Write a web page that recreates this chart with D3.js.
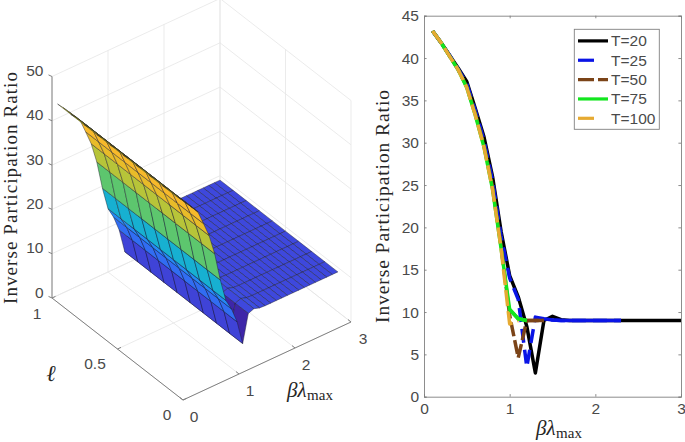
<!DOCTYPE html>
<html><head><meta charset="utf-8">
<script src="https://cdn.jsdelivr.net/npm/d3@7"></script>
<style>
html,body{margin:0;padding:0;background:#fff;overflow:hidden;}
svg{display:block;}
text{font-family:"Liberation Sans",Arial,sans-serif;fill:#4a4a4a;}
.serif{font-family:"Liberation Serif",serif;fill:#262626;}
</style></head><body><svg id="c" width="685" height="442"></svg>
<script>
const betaGrid=[0.1,0.2,0.3,0.4,0.5,0.6,0.7,0.8,0.9,1.0,1.1,1.2,1.3,1.4,1.5,1.6,1.7,1.8,1.9,2.0,2.1,2.2,2.3,2.4,2.5,2.6,2.7,2.8,2.9,3.0];
const ellGrid=[0.1,0.2,0.3,0.4,0.5,0.6,0.7,0.8,0.9,1.0];
const surfaceProfile=[43.2,41.8,40.3,38.8,37.2,34,30.7,26,19.5,14.3,11.8,8.3,2.8,9,9.5,9.1,9,9,9,9,9,9,9,9,9,9,9,9,9,9];
const betaT20=betaGrid;
const valT20=surfaceProfile;
const betaT25=[0.1,0.2,0.3,0.4,0.5,0.6,0.7,0.8,0.9,1.0,1.1,1.2,1.3,1.4,1.5,1.6,1.7,2.3];
const valT25=[43.2,41.8,40.3,38.7,37,33.8,30.3,25.6,19,14,11.5,3.5,9.4,9.2,9.05,9,9,9];
const betaT50=[0.1,0.2,0.3,0.4,0.5,0.6,0.7,0.8,0.9,1.0,1.1,1.2,1.3,1.4];
const valT50=[43.2,41.8,40.2,38.6,36.6,33.4,29.7,24.8,17.8,9.6,4.6,9,9,9];
const betaT75=[0.1,0.2,0.3,0.4,0.5,0.6,0.7,0.8,0.9,1.0,1.1,1.2];
const valT75=[43.2,41.8,40.2,38.6,36.5,33.2,29.5,24.5,17.5,10.3,9.2,9];
const betaT100=[0.1,0.2,0.3,0.4,0.5,0.6,0.7,0.8,0.9,1.0,1.1];
const valT100=[43.2,41.8,40.2,38.6,36.5,33.2,29.5,24.5,17.5,8.6,9];
const seriesNames=["T=20","T=25","T=50","T=75","T=100"];
const seriesColors=["#000000","#0a14e6","#7b4418","#12e61e","#e6aa32"];
const seriesDash=[null,"14,7","14,4",null,"16,5"];
const legendDash=[null,"16,14","16,4",null,"16,14"];
const zTicks=[0,10,20,30,40,50];
const betaTicks=[0,1,2,3];
const ellTicks=[0,0.5,1];
const rightYTicks=[0,5,10,15,20,25,30,35,40,45];
const parulaStops=[0,.15,.25,.375,.5,.625,.75,.875,1];
const parulaColors=["#3e26a8","#3f46dc","#2c7cfa","#12aae6","#22bda0","#86cc4c","#e4bc28","#fcb82c","#f9fb14"];

const svg=d3.select("#c");
const gridCol="#e6e6e6",axCol="#808080";
const bX=d3.scaleLinear([0,3],[0,168]), bY=d3.scaleLinear([0,3],[0,-78]);
const lX=d3.scaleLinear([0,1],[183,52]), lY=d3.scaleLinear([0,1],[400,298]);
const zY=d3.scaleLinear([0,50],[0,-221.5]);
const px=(b,l)=>lX(l)+bX(b);
const py=(b,l,z)=>lY(l)+bY(b)+zY(z);
const g3=svg.append("g");
const seg=(p,q,c,w)=>g3.append("line").attr("x1",p[0]).attr("y1",p[1]).attr("x2",q[0]).attr("y2",q[1]).attr("stroke",c).attr("stroke-width",w||0.8);
const P=(b,l,z)=>[px(b,l),py(b,l,z)];
zTicks.forEach(z=>{
  seg(P(0,1,z),P(3,1,z),gridCol);
  seg(P(3,1,z),P(3,0,z),gridCol);
});
betaTicks.forEach(b=>{seg(P(b,0,0),P(b,1,0),gridCol);seg(P(b,1,0),P(b,1,50),gridCol);});
ellTicks.forEach(l=>{seg(P(0,l,0),P(3,l,0),gridCol);seg(P(3,l,0),P(3,l,50),gridCol);});
seg(P(0,1,0),P(0,1,50),axCol,1);
seg(P(0,1,0),P(0,0,0),axCol,1);
seg(P(0,0,0),P(3,0,0),axCol,1);
zTicks.forEach(z=>{const p=P(0,1,z);seg(p,[p[0]-3.5,p[1]-1.6],axCol,1);
  g3.append("text").attr("x",43.5).attr("y",p[1]-0.5).attr("text-anchor","end").attr("font-size",15.5).text(z);});
ellTicks.forEach(l=>{const p=P(0,l,0);seg(p,[p[0]+3.5,p[1]-1.6],axCol,1);});
betaTicks.forEach(b=>{const p=P(b,0,0);seg(p,[p[0]-3,p[1]-2.4],axCol,1);});
[[0,167,420],[0.5,95,369],[1,37,319]].forEach(d=>g3.append("text").attr("x",d[1]).attr("y",d[2]).attr("text-anchor","middle").attr("font-size",15.5).text(d[0]));
[[0,194,422],[1,250,396],[2,306,370],[3,363,344]].forEach(d=>g3.append("text").attr("x",d[1]).attr("y",d[2]).attr("text-anchor","middle").attr("font-size",15.5).text(d[0]));
const color=d3.scaleLinear().domain(parulaStops).range(parulaColors).interpolate(d3.interpolateRgb);
const zMin=d3.min(surfaceProfile),zMax=d3.max(surfaceProfile);
const cNorm=d3.scaleLinear([zMin,zMax],[0,1]);
const surf=svg.append("g");
for(let i=betaGrid.length-2;i>=0;i--){
  for(let j=ellGrid.length-2;j>=0;j--){
    const b0=betaGrid[i],b1=betaGrid[i+1],l0=ellGrid[j],l1=ellGrid[j+1];
    const z0=surfaceProfile[i],z1=surfaceProfile[i+1];
    const pts=[P(b0,l0,z0),P(b1,l0,z1),P(b1,l1,z1),P(b0,l1,z0)];
    surf.append("path").attr("d",d3.line()(pts)+"Z")
      .attr("fill",color(cNorm(z0))).attr("stroke","#1a1a28").attr("stroke-opacity",.72).attr("stroke-width",.6).attr("stroke-linejoin","round");
  }
}
function labelBetaLambda(x,y,g){
  const t=g.append("text").attr("class","serif").attr("x",x).attr("y",y).attr("font-size",21);
  t.append("tspan").attr("font-style","italic").text("βλ");
  t.append("tspan").attr("dy",3).attr("font-size",15).attr("dx",0.5).text("max");
}
g3.append("text").attr("class","serif").attr("transform","translate(17,304) rotate(-90)").attr("font-size",19).attr("textLength",232).attr("lengthAdjust","spacing").text("Inverse Participation Ratio");
g3.append("text").attr("class","serif").attr("x",51).attr("y",381).attr("text-anchor","middle").attr("font-style","italic").attr("font-size",23).text("ℓ");
labelBetaLambda(287,397,svg);

const x=d3.scaleLinear([0,3],[424,681]);
const y=d3.scaleLinear([0,45],[396.7,15.7]);
const gr=svg.append("g");
const lineGen=(xs,vs)=>d3.line().x((d,i)=>x(xs[i])).y(d=>y(d))(vs);
const series=[[betaT20,valT20],[betaT25,valT25],[betaT50,valT50],[betaT100,valT100],[betaT75,valT75]];
const order=[0,1,2,4,3];
const axB=gr.append("g").attr("transform","translate(0,396.7)").call(d3.axisBottom(x).tickValues(betaTicks).tickSize(-2.6).tickPadding(6).tickFormat(d3.format("d")));
const axL=gr.append("g").attr("transform","translate(424,0)").call(d3.axisLeft(y).tickValues(rightYTicks).tickSize(-2.6).tickPadding(5));
const axT=gr.append("g").attr("transform","translate(0,15.7)").call(d3.axisTop(x).tickValues(betaTicks).tickSize(-2.6).tickFormat(""));
const axR=gr.append("g").attr("transform","translate(681,0)").call(d3.axisRight(y).tickValues(rightYTicks).tickSize(-2.6).tickFormat(""));
[axB,axL,axT,axR].forEach(a=>{a.selectAll("path,line").attr("stroke",axCol).attr("stroke-width",.9);
  a.selectAll("text").attr("font-size",15.5).attr("fill","#4a4a4a").attr("font-family","Liberation Sans");});
// T=75 is drawn first, T=100 over it up to the knee, so gold dashes show green in their gaps
const drawOrder=[[betaT20,valT20,0],[betaT25,valT25,1],[betaT50,valT50,2],[betaT75,valT75,3],[betaT100,valT100,4]];
drawOrder.forEach(s=>{
  gr.append("path").attr("d",lineGen(s[0],s[1])).attr("fill","none").attr("stroke",seriesColors[s[2]])
   .attr("stroke-width",3.5).attr("stroke-linejoin","round").attr("stroke-dasharray",seriesDash[s[2]]);
});
gr.append("path").attr("d",lineGen(betaT25.slice(13),valT25.slice(13))).attr("fill","none").attr("stroke",seriesColors[1]).attr("stroke-width",3.5);
gr.append("path").attr("d",lineGen(betaT50.slice(11),valT50.slice(11))).attr("fill","none").attr("stroke",seriesColors[2]).attr("stroke-width",3.5);
gr.append("path").attr("d",lineGen(betaT75.slice(9),valT75.slice(9))).attr("fill","none").attr("stroke",seriesColors[3]).attr("stroke-width",3.5);
gr.append("text").attr("class","serif").attr("transform","translate(389,323) rotate(-90)").attr("font-size",19.5).attr("textLength",233).attr("lengthAdjust","spacing").text("Inverse Participation Ratio");
labelBetaLambda(536,435,svg);
const lg=svg.append("g");
lg.append("rect").attr("x",574.3).attr("y",29.3).attr("width",85).attr("height",100).attr("fill","#fff").attr("stroke",axCol).attr("stroke-width",.9);
const ly=d3.scalePoint(seriesNames,[40.9,118.3]);
seriesNames.forEach((n,k)=>{
  lg.append("line").attr("x1",578).attr("x2",608).attr("y1",ly(n)).attr("y2",ly(n)).attr("stroke",seriesColors[k]).attr("stroke-width",3.2).attr("stroke-dasharray",legendDash[k]);
  lg.append("text").attr("x",611).attr("y",ly(n)+5.5).attr("font-size",15.5).text(n);
});
</script></body></html>
